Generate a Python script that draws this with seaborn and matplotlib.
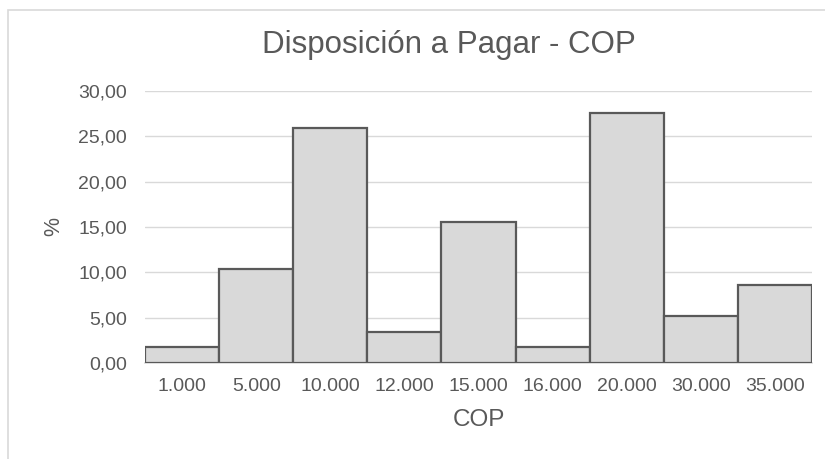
import numpy as np
import pandas as pd
import matplotlib.pyplot as plt
import seaborn as sns
from matplotlib.patches import Rectangle
from matplotlib.ticker import FuncFormatter

categories = ['1.000', '5.000', '10.000', '12.000', '15.000', '16.000', '20.000', '30.000', '35.000']
percent = [1.72, 10.34, 25.86, 3.45, 15.52, 1.72, 27.59, 5.17, 8.62]

df = pd.DataFrame({'COP': categories, 'pct': percent})

sns.set_style('white')
plt.rcParams['font.family'] = ['Liberation Sans', 'DejaVu Sans']
txt = '#595959'

fig = plt.figure(figsize=(8.25, 4.59), dpi=100)
ax = fig.add_axes([0.176, 0.209, 0.808, 0.593])

sns.barplot(data=df, x='COP', y='pct', color='#d9d9d9', saturation=1,
            width=1.0, edgecolor='#595959', linewidth=1.6, ax=ax, zorder=3)

ax.set_xlim(-0.5, len(categories) - 0.5)
ax.set_ylim(0, 30)
ax.set_yticks(np.arange(0, 31, 5))
ax.yaxis.set_major_formatter(FuncFormatter(lambda v, p: f'{v:.2f}'.replace('.', ',')))
ax.set_xticks(np.arange(-0.5, len(categories), 0.5), minor=True)
ax.grid(axis='y', color='#d9d9d9', linewidth=1, zorder=0)

for s in ['top', 'right', 'left']:
    ax.spines[s].set_visible(False)
ax.spines['bottom'].set_color('#d9d9d9')
ax.spines['bottom'].set_linewidth(1.2)

# ticks at bar edges and centres, labels only at centres
ax.tick_params(axis='x', which='both', length=5, color='#d9d9d9', width=1.2,
               labelsize=14, labelcolor=txt, pad=11)
ax.tick_params(axis='x', which='major', length=0)
ax.tick_params(axis='y', length=0, labelsize=14, labelcolor=txt, pad=13)

ax.set_xlabel('COP', fontsize=17.5, color=txt, labelpad=10)
ax.set_ylabel('%', fontsize=15.5, color=txt)
ax.yaxis.set_label_coords(-0.121, 0.5)
fig.text(449 / 825, 1 - 45 / 459, 'Disposición a Pagar - COP', fontsize=22.5,
         color=txt, ha='center', va='center')

# chart area border (cropped on right and bottom)
fig.patches.append(Rectangle((8 / 825, -0.1), 1.2, 1 - 10 / 459 + 0.1,
                             transform=fig.transFigure, fill=False,
                             edgecolor='#d9d9d9', linewidth=1.2))

fig.savefig('out.png', dpi=100)
